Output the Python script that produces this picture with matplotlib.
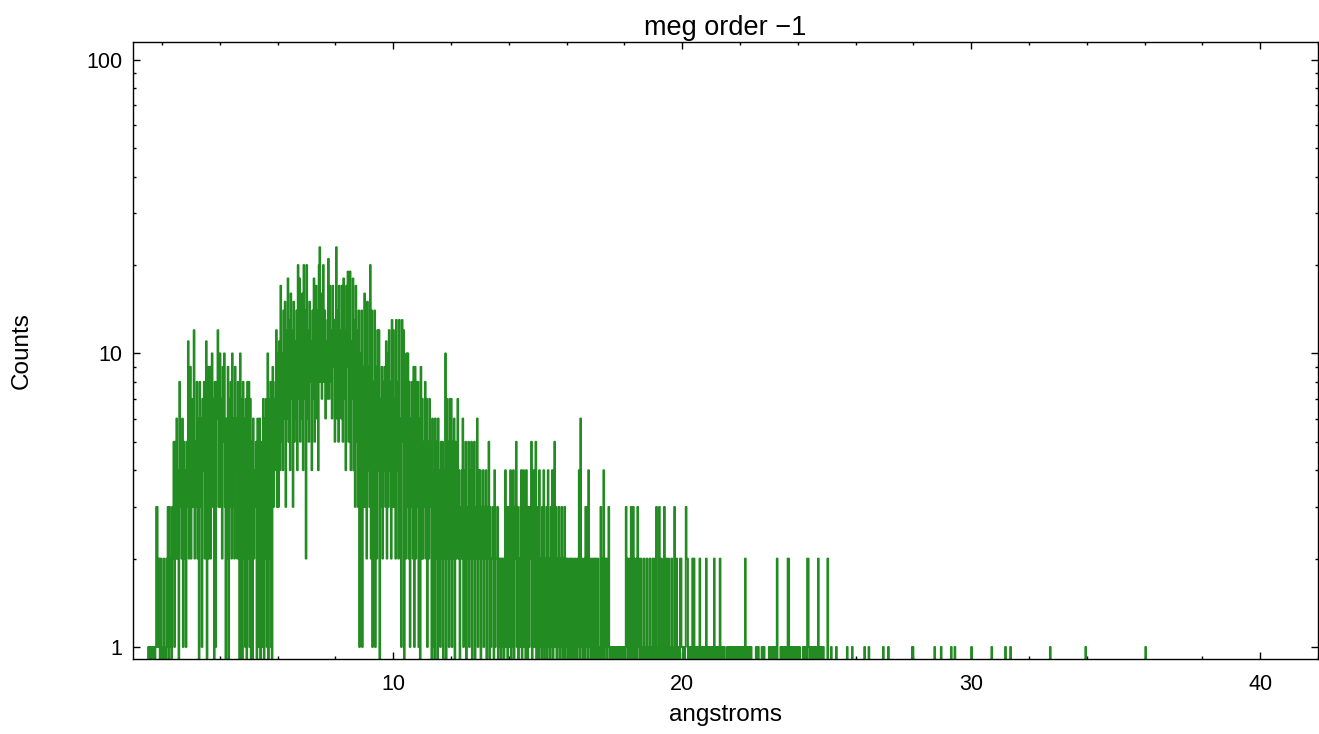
import numpy as np
import matplotlib
matplotlib.use('Agg')
import matplotlib.pyplot as plt
from matplotlib.ticker import FixedLocator, MultipleLocator, LogLocator, NullFormatter

plt.rcParams['font.family'] = ['Liberation Sans', 'DejaVu Sans']

# counts per 0.025 A bin (one row = 0.25 A)
wave_start = 1.5
bin_width = 0.025

counts_1p5_5 = [
    0, 1, 0, 1, 1, 0, 1, 0, 0, 1,
    0, 1, 3, 3, 1, 2, 2, 0, 2, 1,
    0, 1, 2, 0, 1, 0, 2, 1, 3, 0,
    3, 1, 2, 0, 3, 2, 5, 1, 5, 2,
    6, 2, 4, 0, 8, 3, 5, 2, 6, 1,
    5, 2, 4, 1, 5, 3, 11, 2, 8, 9,
    2, 7, 3, 6, 12, 2, 5, 3, 8, 2,
    6, 0, 8, 3, 6, 1, 7, 4, 8, 2,
    5, 11, 0, 9, 2, 6, 9, 2, 6, 10,
    3, 7, 0, 8, 1, 6, 8, 12, 3, 3,
    10, 3, 7, 2, 9, 5, 10, 3, 0, 6,
    2, 9, 0, 7, 3, 8, 2, 10, 3, 6,
    2, 9, 4, 6, 2, 8, 3, 0, 10, 1,
    7, 0, 8, 2, 6, 1, 7, 0, 8, 2,
]

counts_5_10 = [
    8, 1, 7, 0, 5, 0, 6, 2, 4, 3,
    5, 0, 6, 1, 5, 6, 0, 5, 1, 5,
    7, 0, 6, 2, 7, 1, 10, 0, 7, 2,
    8, 1, 0, 9, 3, 7, 4, 8, 12, 3,
    10, 3, 11, 4, 17, 5, 10, 4, 14, 6,
    15, 3, 12, 6, 18, 5, 13, 4, 16, 7,
    12, 3, 15, 5, 11, 6, 14, 4, 20, 7,
    18, 5, 13, 6, 16, 4, 20, 7, 14, 2,
    20, 6, 12, 5, 15, 8, 11, 4, 14, 7,
    18, 5, 13, 17, 6, 14, 4, 20, 23, 8,
    16, 7, 12, 20, 8, 14, 6, 11, 7, 13,
    21, 7, 17, 8, 12, 6, 17, 9, 13, 5,
    13, 23, 6, 14, 5, 17, 8, 12, 6, 17,
    5, 18, 7, 12, 4, 17, 9, 19, 5, 13,
    19, 4, 11, 7, 18, 4, 13, 3, 17, 5,
    12, 3, 14, 1, 10, 2, 14, 1, 9, 3,
    16, 3, 10, 2, 15, 4, 9, 3, 20, 2,
    14, 1, 8, 3, 14, 1, 9, 2, 12, 4,
    12, 0, 7, 3, 9, 2, 8, 4, 9, 3,
    11, 2, 10, 3, 12, 4, 8, 2, 13, 3,
]

counts_10_15 = [
    12, 3, 7, 2, 13, 4, 8, 2, 13, 3,
    6, 1, 13, 5, 12, 0, 8, 2, 10, 3,
    10, 2, 8, 1, 6, 3, 8, 2, 9, 1,
    9, 2, 8, 3, 8, 1, 6, 0, 9, 2,
    7, 2, 5, 3, 8, 2, 7, 1, 5, 2,
    7, 3, 5, 0, 6, 1, 4, 0, 6, 2,
    5, 0, 6, 2, 4, 1, 5, 2, 5, 0,
    4, 2, 10, 0, 7, 2, 5, 1, 7, 2,
    7, 1, 5, 2, 6, 0, 5, 2, 4, 7,
    2, 4, 0, 3, 2, 4, 6, 1, 4, 2,
    5, 0, 3, 2, 5, 1, 4, 2, 5, 0,
    4, 2, 5, 0, 3, 2, 6, 1, 4, 2,
    4, 0, 3, 2, 4, 1, 3, 2, 4, 0,
    3, 2, 5, 0, 3, 1, 2, 2, 3, 0,
    4, 1, 2, 2, 3, 0, 2, 1, 2, 0,
    2, 1, 2, 0, 2, 4, 1, 3, 0, 2,
    3, 1, 4, 0, 2, 1, 4, 0, 3, 2,
    5, 1, 3, 0, 2, 1, 3, 4, 0, 2,
    4, 1, 3, 0, 4, 2, 0, 3, 1, 2,
    3, 5, 0, 2, 4, 1, 3, 5, 0, 2,
]

counts_15_20 = [
    3, 0, 4, 1, 2, 0, 3, 1, 4, 0,
    2, 1, 3, 0, 4, 1, 2, 0, 3, 1,
    4, 0, 2, 5, 1, 3, 0, 2, 1, 3,
    0, 2, 1, 3, 0, 2, 1, 3, 0, 2,
    1, 2, 0, 1, 2, 0, 2, 1, 0, 2,
    1, 0, 2, 1, 0, 2, 1, 4, 0, 6,
    1, 2, 0, 1, 2, 0, 3, 1, 3, 0,
    4, 1, 2, 0, 1, 2, 0, 1, 2, 0,
    2, 1, 0, 2, 1, 0, 1, 3, 0, 2,
    1, 4, 0, 2, 1, 2, 0, 1, 3, 1,
    0, 1, 0, 1, 1, 0, 1, 0, 1, 0,
    1, 0, 1, 1, 0, 1, 0, 1, 0, 1,
    1, 0, 3, 1, 2, 0, 1, 2, 0, 3,
    1, 0, 3, 2, 0, 1, 2, 0, 3, 1,
    2, 0, 1, 2, 0, 1, 0, 2, 1, 0,
    1, 2, 0, 1, 0, 2, 1, 0, 1, 2,
    0, 1, 2, 0, 3, 1, 0, 1, 3, 0,
    1, 2, 0, 1, 0, 3, 1, 0, 2, 1,
    0, 2, 1, 0, 1, 2, 0, 1, 0, 3,
    1, 0, 2, 1, 0, 1, 0, 2, 2, 1,
]

counts_20_25p5 = [
    1, 0, 1, 0, 1, 3, 2, 2, 0, 1,
    0, 1, 0, 1, 2, 0, 2, 1, 0, 1,
    0, 1, 1, 0, 2, 0, 1, 0, 1, 1,
    0, 1, 0, 2, 1, 0, 1, 0, 1, 0,
    1, 0, 1, 0, 2, 0, 1, 0, 1, 1,
    0, 1, 2, 0, 0, 1, 0, 0, 1, 0,
    0, 0, 1, 0, 1, 0, 0, 1, 1, 0,
    1, 0, 1, 0, 1, 1, 0, 1, 0, 1,
    1, 0, 1, 0, 1, 0, 1, 2, 0, 1,
    0, 1, 0, 1, 0, 1, 0, 0, 0, 0,
    0, 0, 1, 0, 1, 1, 0, 0, 0, 0,
    1, 0, 0, 1, 0, 0, 0, 0, 0, 0,
    1, 0, 1, 0, 1, 1, 0, 1, 0, 0,
    1, 2, 0, 0, 0, 0, 1, 0, 1, 0,
    1, 1, 0, 1, 0, 0, 2, 2, 0, 1,
    0, 1, 0, 1, 1, 0, 0, 1, 0, 1,
    1, 0, 1, 0, 0, 0, 0, 1, 0, 1,
    0, 1, 0, 2, 2, 1, 0, 1, 0, 1,
    0, 1, 1, 0, 1, 0, 0, 1, 2, 0,
    1, 0, 1, 0, 1, 1, 0, 0, 0, 0,
    0, 2, 0, 0, 0, 0, 1, 0, 0, 0,
    0, 0, 0, 1, 0, 0, 0, 0, 0, 0,
]

# isolated single counts in the long-wavelength tail
tail_wave = [25.72, 25.90, 26.30, 26.47, 26.96, 27.14, 27.95, 27.98, 28.74, 28.96,
             29.30, 29.44, 30.02, 30.72, 31.18, 31.37, 32.73, 33.97, 36.04]
tail_counts = [1] * len(tail_wave)

xtick_values = [10, 20, 30, 40]
ytick_values = [1, 10, 100]
ytick_labels = ['1', '10', '100']

#%%
dense = np.array(counts_1p5_5 + counts_5_10 + counts_10_15 + counts_15_20 + counts_20_25p5, dtype=float)
n_bins = int(round((42.0 - wave_start) / bin_width))
counts = np.zeros(n_bins)
counts[:len(dense)] = dense
tail_idx = ((np.array(tail_wave) - wave_start) / bin_width).astype(int)
counts[tail_idx] = tail_counts
edges = wave_start + bin_width * np.arange(n_bins + 1)

#%%
fig = plt.figure(figsize=(13.19, 7.34), dpi=100)
ax = fig.add_axes([133 / 1319, 1 - 659 / 734, (1318 - 133) / 1319, (659 - 42) / 734])

ax.step(edges, np.append(counts, counts[-1]), where='post', color='forestgreen', lw=1.4)

ax.set_yscale('log', nonpositive='clip')
ax.set_xlim(1.0, 42.0)
ax.set_ylim(0.91, 115)

ax.xaxis.set_major_locator(FixedLocator(xtick_values))
ax.xaxis.set_minor_locator(MultipleLocator(2))
ax.yaxis.set_major_locator(FixedLocator(ytick_values))
ax.set_yticklabels(ytick_labels)
ax.yaxis.set_minor_locator(LogLocator(base=10, subs=range(2, 10)))
ax.yaxis.set_minor_formatter(NullFormatter())

ax.tick_params(which='both', direction='in', top=True, right=True, width=1, labelsize=15.5, colors='black')
ax.tick_params(which='major', length=5)
ax.tick_params(which='minor', length=2.5)
ax.tick_params(axis='x', which='major', pad=11)
ax.tick_params(axis='y', which='major', pad=7.5)
for s in ax.spines.values():
    s.set_linewidth(1)

ax.set_title('meg order \u22121', fontsize=19.5, pad=5)
ax.set_xlabel('angstroms', fontsize=17.5, labelpad=6)
ax.set_ylabel('Counts', fontsize=17.5)
ax.yaxis.set_label_coords(-0.085, 0.5)

fig.savefig('out.png', dpi=100)
